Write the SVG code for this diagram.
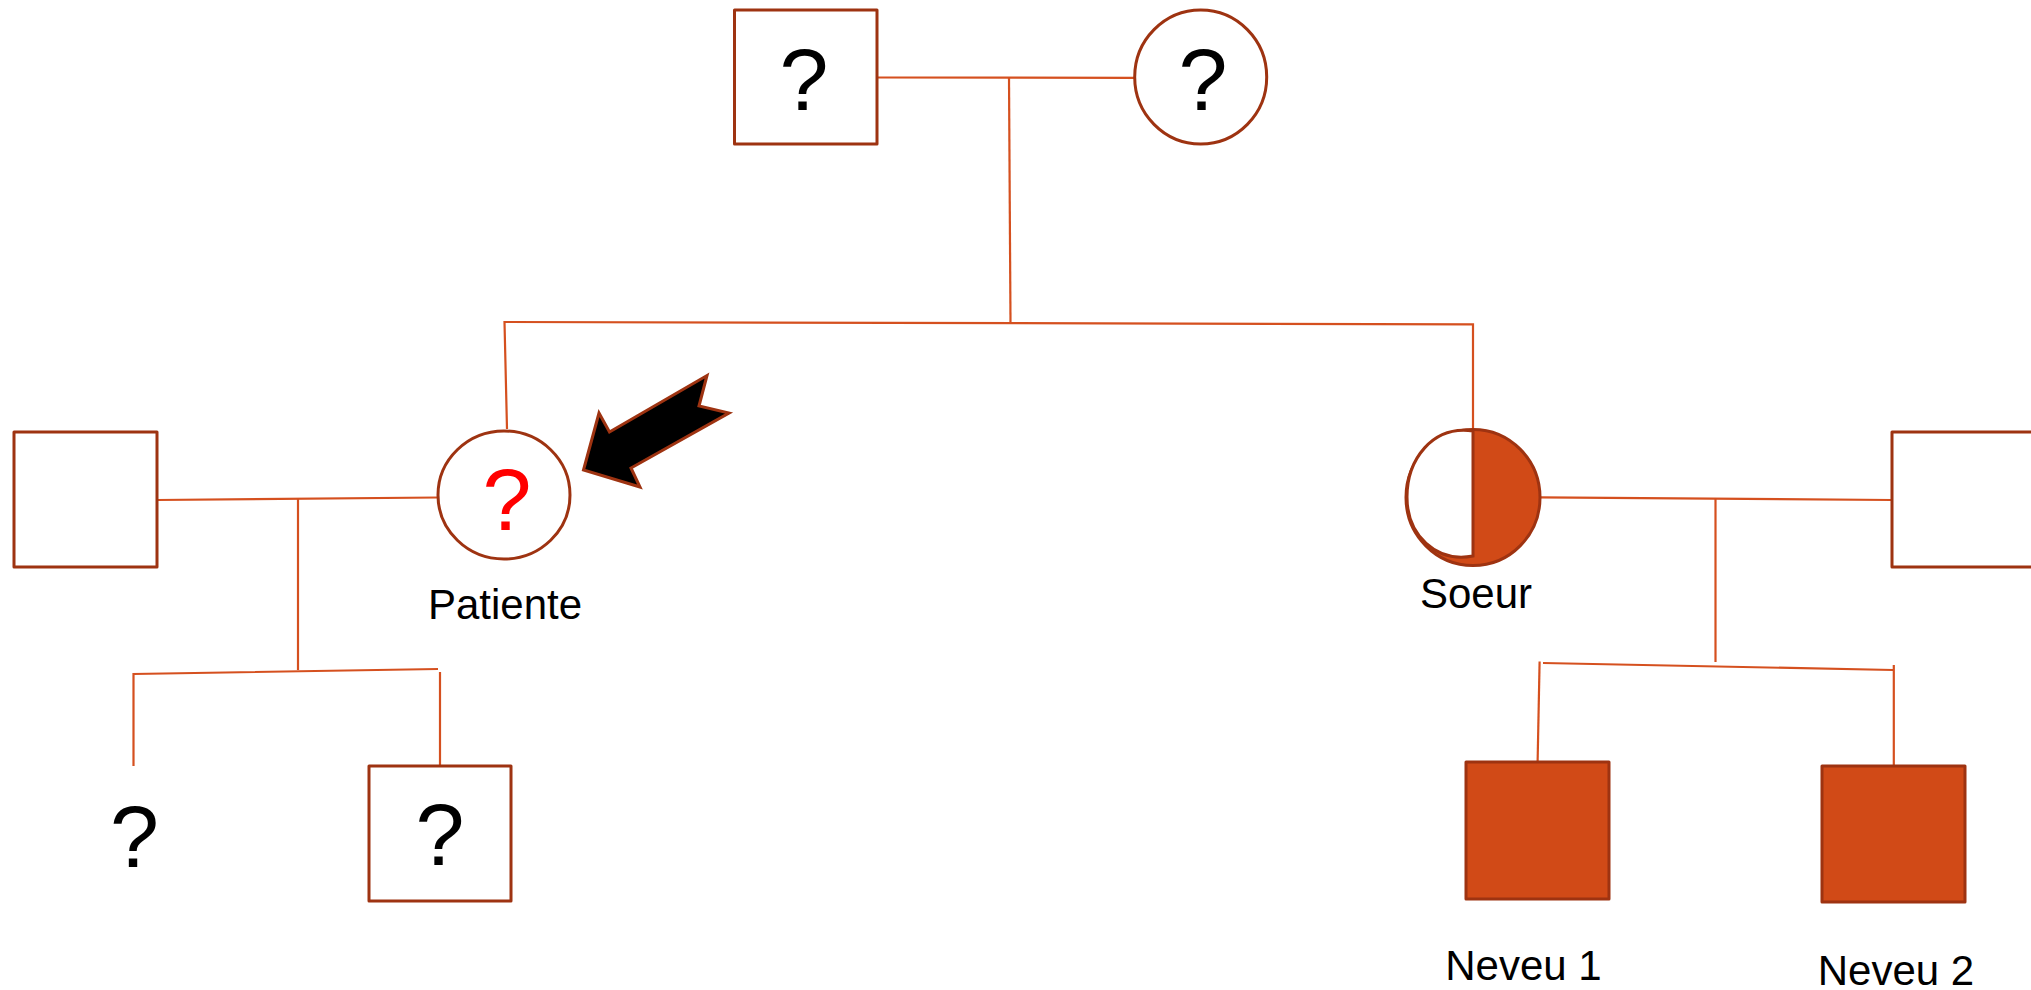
<svg xmlns="http://www.w3.org/2000/svg" width="2031" height="990" viewBox="0 0 2031 990">
<style>
.shape{fill:#ffffff;stroke:#9E3311;stroke-width:3;stroke-linejoin:round}
.aff{fill:#D14A17;stroke:#9E3311;stroke-width:3;stroke-linejoin:round}
.conn line,.conn polyline{stroke:#D5501F;stroke-width:2.2;fill:none}
.q{font-family:"Liberation Sans","DejaVu Sans",sans-serif;font-size:88px;text-anchor:middle;fill:#000}
.lbl{font-family:"Liberation Sans","DejaVu Sans",sans-serif;font-size:42px;text-anchor:middle;fill:#000}
</style>
<rect width="2031" height="990" fill="#ffffff"/>
<g id="connectors" class="conn">
  <line x1="877" y1="77.5" x2="1135" y2="77.8"/>
  <line x1="1009" y1="77.7" x2="1010.5" y2="323"/>
  <polyline points="507,429 504.5,322 1473,324.3 1473,429"/>
  <line x1="157" y1="500" x2="438" y2="497.5"/>
  <line x1="298" y1="499" x2="298" y2="670"/>
  <polyline points="133.5,766 133.5,674 438,669"/>
  <line x1="440" y1="672" x2="440" y2="766"/>
  <line x1="1540" y1="497.3" x2="1892" y2="500"/>
  <line x1="1715.5" y1="499" x2="1715.5" y2="662"/>
  <line x1="1543" y1="663" x2="1893" y2="670"/>
  <line x1="1539.6" y1="661.5" x2="1537.6" y2="762"/>
  <line x1="1893.8" y1="665" x2="1893.8" y2="766"/>
</g>
<g id="grandfather">
  <rect class="shape" x="734.5" y="10" width="142.5" height="134"/>
  <text class="q" x="804" y="110">?</text>
</g>
<g id="grandmother">
  <ellipse class="shape" cx="1200.7" cy="77" rx="66" ry="67"/>
  <text class="q" x="1203" y="110">?</text>
</g>
<g id="husband-patiente">
  <rect class="shape" x="14" y="432" width="143" height="135"/>
</g>
<g id="patiente">
  <ellipse class="shape" cx="504" cy="495" rx="66" ry="64"/>
  <text class="q" x="507" y="530" fill="#FF0000" style="fill:#FF0000">?</text>
  <text class="lbl" x="505" y="619">Patiente</text>
</g>
<g id="arrow">
  <polygon points="583.5,470 599,413 609.5,432 707,375.5 699,406 729,413 631,468 640,487" fill="#000000" stroke="#9E3311" stroke-width="3" stroke-linejoin="miter"/>
</g>
<g id="child-unknown">
  <text class="q" x="134.5" y="867">?</text>
</g>
<g id="child-square">
  <rect class="shape" x="369" y="766" width="142" height="135"/>
  <text class="q" x="440" y="865">?</text>
</g>
<g id="soeur">
  <ellipse class="aff" cx="1473" cy="497.5" rx="67" ry="68"/>
  <path d="M1473,431 C1432,425 1407,460 1407,497 C1407,535 1436,563 1473,556 Z" fill="#ffffff" stroke="#9E3311" stroke-width="3"/>
  <text class="lbl" x="1476" y="608">Soeur</text>
</g>
<g id="husband-soeur">
  <rect class="shape" x="1892" y="432" width="143" height="135"/>
</g>
<g id="neveu1">
  <rect class="aff" x="1466" y="762" width="143" height="137"/>
  <text class="lbl" x="1523.5" y="980">Neveu 1</text>
</g>
<g id="neveu2">
  <rect class="aff" x="1822" y="766" width="143" height="136"/>
  <text class="lbl" x="1896" y="985">Neveu 2</text>
</g>
</svg>
